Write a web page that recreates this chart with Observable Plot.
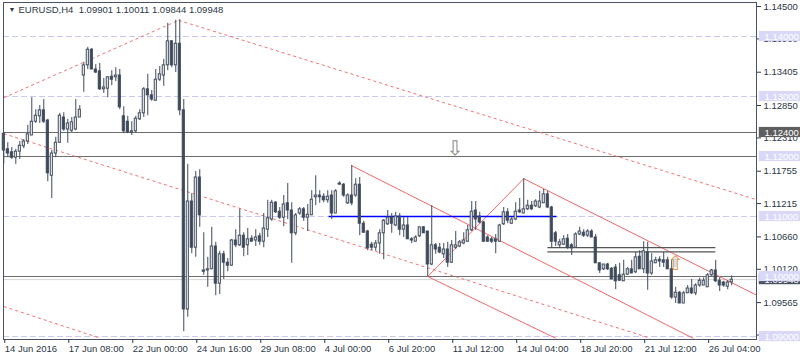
<!DOCTYPE html>
<html><head><meta charset="utf-8">
<script src="https://cdn.jsdelivr.net/npm/d3@7"></script>
<script src="https://cdn.jsdelivr.net/npm/@observablehq/plot@0.6"></script>
<style>
html,body{margin:0;padding:0;background:#fff;}
#chart svg{display:block}
</style></head><body><div id="chart"></div>
<script>
// EURUSD H4 candles (bar index 0 = 14 Jun 2016 00:00)
const open=[
1.1238,1.1212,1.1207,1.1198,1.1208,1.1217,1.1225,1.1235,1.1258,1.1267,
1.1277,1.1260,1.1168,1.1205,1.1223,1.1265,1.1245,1.1243,1.1245,1.1265,
1.1335,1.1352,1.1378,1.1345,1.1342,1.1312,1.1313,1.1333,1.1332,1.1335,
1.1267,1.1258,1.1240,1.1242,1.1262,1.1272,1.1312,1.1302,1.1293,1.1328,
1.1335,1.1352,1.1392,1.1352,1.1388,1.1277,1.0945,1.1125,1.1048,1.1165,
1.1010,1.1010,1.1012,1.1050,1.0988,1.1037,1.1023,1.1018,1.1060,1.1052,
1.1068,1.1052,1.1063,1.1060,1.1067,1.1058,1.1078,1.1095,1.1123,1.1108,
1.1098,1.1122,1.1110,1.1072,1.1105,1.1112,1.1098,1.1102,1.1132,1.1135,
1.1133,1.1127,1.1135,1.1105,1.1155,1.1153,1.1122,1.1135,1.1135,1.1153,
1.1088,1.1075,1.1053,1.1048,1.1055,1.1072,1.1087,1.1098,1.1085,1.1100,
1.1078,1.1085,1.1062,1.1058,1.1067,1.1082,1.1075,1.1020,1.1052,1.1048,
1.1037,1.1045,1.1023,1.1048,1.1050,1.1055,1.1058,1.1077,1.1110,1.1100,
1.1090,1.1065,1.1062,1.1062,1.1058,1.1087,1.1107,1.1088,1.1095,1.1110,
1.1105,1.1112,1.1118,1.1117,1.1115,1.1122,1.1137,1.1115,1.1072,1.1052,
1.1053,1.1063,1.1052,1.1048,1.1070,1.1073,1.1068,1.1075,1.1065,1.1022,
1.1012,1.1020,1.1013,1.1015,1.1002,1.0992,1.1003,1.1012,1.1007,1.1033,
1.1012,1.1040,1.1005,1.1022,1.1028,1.1027,1.1027,1.1012,1.0965,1.0973,
1.0955,1.0972,1.0980,1.0972,1.0985,1.0985,1.0982,1.1002,1.1010,1.0993,
1.0990,1.0983,1.09901];
const high=[
1.1240,1.1223,1.1215,1.1212,1.1225,1.1228,1.1252,1.1298,1.1278,1.1285,
1.1295,1.1262,1.1210,1.1232,1.1272,1.1273,1.1262,1.1265,1.1295,1.1285,
1.1357,1.1382,1.1380,1.1353,1.1355,1.1330,1.1333,1.1343,1.1348,1.1345,
1.1283,1.1267,1.1258,1.1267,1.1278,1.1315,1.1337,1.1310,1.1345,1.1350,
1.1362,1.1422,1.1393,1.1427,1.1428,1.1295,1.1187,1.1138,1.1175,1.1178,
1.1073,1.1032,1.1082,1.1057,1.1042,1.1042,1.1030,1.1062,1.1078,1.1112,
1.1073,1.1080,1.1068,1.1078,1.1072,1.1105,1.1127,1.1127,1.1125,1.1115,
1.1135,1.1155,1.1123,1.1105,1.1115,1.1115,1.1120,1.1143,1.1168,1.1143,
1.1138,1.1143,1.1143,1.1145,1.1158,1.1155,1.1138,1.1185,1.1163,1.1165,
1.1092,1.1077,1.1057,1.1060,1.1078,1.1095,1.1110,1.1105,1.1107,1.1105,
1.1098,1.1098,1.1065,1.1068,1.1082,1.1083,1.1075,1.1118,1.1055,1.1055,
1.1055,1.1057,1.1060,1.1075,1.1060,1.1073,1.1085,1.1125,1.1125,1.1107,
1.1092,1.1068,1.1065,1.1070,1.1087,1.1115,1.1113,1.1098,1.1123,1.1130,
1.1163,1.1127,1.1125,1.1128,1.1142,1.1145,1.1142,1.1117,1.1075,1.1062,
1.1068,1.1070,1.1055,1.1073,1.1082,1.1078,1.1078,1.1078,1.1070,1.1023,
1.1020,1.1022,1.1015,1.1020,1.1022,1.1027,1.1015,1.1027,1.1040,1.1043,
1.1058,1.1057,1.1038,1.1032,1.1033,1.1040,1.1032,1.1027,1.0982,1.0975,
1.0975,1.0985,1.0995,1.0988,1.0997,1.0998,1.1005,1.1012,1.1027,1.0998,
1.0992,1.0993,1.10011];
const low=[
1.1188,1.1198,1.1195,1.1187,1.1195,1.1213,1.1220,1.1235,1.1255,1.1255,
1.1255,1.1158,1.1130,1.1198,1.1222,1.1242,1.1222,1.1240,1.1243,1.1265,
1.1307,1.1345,1.1345,1.1338,1.1310,1.1305,1.1298,1.1318,1.1325,1.1278,
1.1238,1.1238,1.1235,1.1240,1.1260,1.1265,1.1268,1.1292,1.1292,1.1325,
1.1317,1.1343,1.1348,1.1340,1.1268,1.0908,1.0932,1.1038,1.1032,1.1082,
1.1002,1.0982,1.1012,1.0968,1.0970,1.0995,1.1008,1.1017,1.1048,1.1050,
1.1033,1.1035,1.1058,1.1050,1.1052,1.1048,1.1065,1.1092,1.1105,1.1095,
1.1083,1.1095,1.1022,1.1068,1.1102,1.1092,1.1075,1.1102,1.1118,1.1122,
1.1123,1.1122,1.1095,1.1105,1.1152,1.1132,1.1120,1.1118,1.1132,1.1068,
1.1072,1.1043,1.1043,1.1042,1.1037,1.1028,1.1085,1.1072,1.1083,1.1068,
1.1065,1.1062,1.1055,1.1058,1.1065,1.1072,1.1000,1.1018,1.1037,1.1038,
1.1030,1.1015,1.1022,1.1045,1.1048,1.1053,1.1057,1.1075,1.1077,1.1088,
1.1057,1.1058,1.1055,1.1038,1.1057,1.1085,1.1088,1.1087,1.1093,1.1105,
1.1105,1.1110,1.1110,1.1115,1.1113,1.1122,1.1113,1.1048,1.1050,1.1047,
1.1052,1.1045,1.1035,1.1047,1.1068,1.1065,1.1065,1.1065,1.1022,1.1005,
1.1010,1.1010,1.0995,1.0978,1.0992,1.0992,1.1002,1.1005,1.1005,1.1012,
1.1005,1.0977,1.1002,1.1022,1.1015,1.1015,1.1012,1.0962,1.0955,1.0955,
1.0955,1.0972,1.0970,1.0968,1.0982,1.0985,1.0982,1.1000,1.0990,1.0975,
1.0982,1.0978,1.09844];
const close=[
1.1210,1.1205,1.1198,1.1208,1.1218,1.1225,1.1237,1.1258,1.1268,1.1277,
1.1258,1.1172,1.1205,1.1223,1.1268,1.1245,1.1255,1.1257,1.1265,1.1278,
1.1352,1.1378,1.1345,1.1340,1.1312,1.1315,1.1332,1.1328,1.1335,1.1282,
1.1242,1.1240,1.1242,1.1263,1.1272,1.1312,1.1302,1.1295,1.1328,1.1337,
1.1352,1.1392,1.1352,1.1388,1.1277,1.0945,1.1125,1.1048,1.1165,1.1102,
1.1008,1.1012,1.1050,1.0988,1.1037,1.1023,1.1018,1.1060,1.1052,1.1068,
1.1048,1.1062,1.1058,1.1065,1.1058,1.1080,1.1097,1.1123,1.1107,1.1098,
1.1120,1.1110,1.1072,1.1102,1.1112,1.1098,1.1103,1.1128,1.1135,1.1132,
1.1127,1.1133,1.1105,1.1142,1.1154,1.1135,1.1135,1.1122,1.1153,1.1088,
1.1073,1.1047,1.1048,1.1055,1.1072,1.1093,1.1098,1.1088,1.1100,1.1078,
1.1085,1.1062,1.1060,1.1065,1.1082,1.1072,1.1020,1.1052,1.1045,1.1040,
1.1045,1.1023,1.1052,1.1052,1.1057,1.1060,1.1077,1.1108,1.1095,1.1090,
1.1058,1.1058,1.1058,1.1058,1.1085,1.1107,1.1093,1.1095,1.1108,1.1107,
1.1112,1.1118,1.1112,1.1125,1.1125,1.1137,1.1115,1.1058,1.1058,1.1057,
1.1062,1.1048,1.1047,1.1070,1.1075,1.1068,1.1075,1.1065,1.1022,1.1010,
1.1020,1.1012,1.0995,1.0992,1.0993,1.1003,1.1012,1.1005,1.1032,1.1012,
1.1042,1.1005,1.1025,1.1027,1.1025,1.1023,1.1012,1.0965,1.0973,1.0955,
1.0972,1.0980,1.0972,1.0985,1.0993,1.0993,1.1002,1.1010,1.0992,1.0985,
1.0985,1.0990,1.09948];

const xTickIdx=[0,16,32,48,64,80,96,112,128,144,160,176];
const xTickLabels=["14 Jun 2016","17 Jun 08:00","22 Jun 00:00","24 Jun 16:00","29 Jun 08:00","4 Jul 00:00","6 Jul 20:00","11 Jul 12:00","14 Jul 04:00","18 Jul 20:00","21 Jul 12:00","26 Jul 04:00"];
const yTicks=[1.14500,1.13960,1.13405,1.12850,1.12310,1.11755,1.11215,1.10660,1.10120,1.09565,1.09025];
const roundLevels=[1.14,1.13,1.12,1.11,1.10,1.09];
const grayLevels=[1.1240,1.1200,1.1000];
const darkLabels=[1.09948,1.12400];
// trend lines: [startBar, startPrice, endBar, endPrice]
const dashedLines=[[0,1.1298,43.7,1.1427],[43.7,1.1427,188.2,1.1128],[0,1.1238,161.7,1.0897],[0,1.0950,24.2,1.0897]];
const solidLines=[[86.9,1.1185,172.4,1.0897],[130,1.1163,188.2,1.0969],[106,1.1000,138,1.0897],[106,1.1000,130,1.1163]];
const blueLines=[[81.2,1.1100,138.2,1.1100]];
const blackLines=[[135.9,1.1048,177.9,1.1048],[135.9,1.1041,177.9,1.1041]];
const arrows=[{i:112.8,p:1.1214,g:"⇩",c:"#8a8a8a",bg:"#ffffff"},{i:167.9,p:1.1022,g:"⇧",c:"#e09a48",bg:"#cfe3f7"}];

const n=open.length;
const bars=d3.range(n).map(i=>({i,o:open[i],h:high[i],l:low[i],c:close[i]}));
const seg=a=>a.map(([x1,y1,x2,y2])=>({x1,y1,x2,y2}));
const f5=d3.format(".5f");
const XMAX=188.2;
const ink="#3e4a5b";
const font="Liberation Sans, Arial, sans-serif";
const title=`EURUSD,H4  ${f5(open[n-1])} ${f5(high[n-1])} ${f5(low[n-1])} ${f5(close[n-1])}`;
const bh=0.00085;

const chart=Plot.plot({
  width:800,height:360,
  marginLeft:3,marginRight:44,marginTop:2,marginBottom:21,
  x:{domain:[-0.075,XMAX],label:null},
  y:{domain:[1.0895,1.14567],label:null},
  style:{fontFamily:font,fontSize:"9.5px",background:"#fff",color:"#2d3745"},
  marks:[
    Plot.ruleY(roundLevels,{stroke:"#c9c9f2",strokeDasharray:"6,3"}),
    Plot.ruleY(grayLevels,{stroke:"#6e6e6e",strokeWidth:1.2}),
    Plot.ruleY([close[n-1]],{stroke:"#d4d4d4"}),
    Plot.link(seg(dashedLines),{x1:"x1",y1:"y1",x2:"x2",y2:"y2",stroke:"#f07272",strokeDasharray:"3,3",clip:true}),
    Plot.link(seg(solidLines),{x1:"x1",y1:"y1",x2:"x2",y2:"y2",stroke:"#f06868",clip:true}),
    Plot.link(seg(blueLines),{x1:"x1",y1:"y1",x2:"x2",y2:"y2",stroke:"#0000ff",strokeWidth:1.6}),
    Plot.link(seg(blackLines),{x1:"x1",y1:"y1",x2:"x2",y2:"y2",stroke:"#555",strokeWidth:1.2}),
    Plot.ruleX(bars,{x:"i",y1:"l",y2:"h",stroke:ink}),
    Plot.rect(bars,{x1:d=>d.i-0.26,x2:d=>d.i+0.26,y1:"o",y2:"c",fill:d=>d.c>=d.o?"#fff":ink,stroke:ink}),
    Plot.ruleY(bars.filter(d=>Math.abs(d.c-d.o)<0.00012),{y:"c",x1:d=>d.i-0.4,x2:d=>d.i+0.4,stroke:ink}),
    Plot.text(arrows,{x:"i",y:"p",text:()=>"⬆",rotate:d=>d.g==="⇩"?180:0,fill:"bg",fontSize:13,fontFamily:"DejaVu Sans"}),
    Plot.text(arrows,{x:"i",y:"p",text:"g",fill:"c",fontSize:20,fontFamily:"DejaVu Sans"}),
    Plot.frame({stroke:"#4a5363"}),
    Plot.axisY({anchor:"right",ticks:yTicks,tickFormat:f5,tickSize:4,tickPadding:3,label:null,fontSize:9.5,color:"#2d3745"}),
    Plot.axisX({anchor:"bottom",ticks:xTickIdx,tickFormat:d=>xTickLabels[xTickIdx.indexOf(d)],tickSize:4,tickPadding:2,textAnchor:"start",dx:1,label:null,fontSize:9.5,color:"#2d3745"}),
    Plot.rect(darkLabels,{x1:()=>XMAX+0.7,x2:()=>XMAX+12,y1:d=>d-bh,y2:d=>d+bh,fill:d=>d===1.124?"#5e5e5e":"#4a5363"}),
    Plot.text(darkLabels,{y:d=>d,frameAnchor:"right",dx:8,textAnchor:"start",text:d=>f5(d),fill:"#fff",fontSize:9.5}),
    Plot.rect(roundLevels,{x1:()=>XMAX+0.7,x2:()=>XMAX+12,y1:d=>d-bh,y2:d=>d+bh,fill:"#d9d9f7"}),
    Plot.text(roundLevels,{y:d=>d,frameAnchor:"right",dx:8,textAnchor:"start",text:d=>f5(d),fill:"#fff",fontSize:9.5}),
    Plot.text(["▼"],{frameAnchor:"top-left",dx:5,dy:5,fontSize:7,fill:"#2d3745",textAnchor:"start",lineAnchor:"top"}),
    Plot.text([title],{frameAnchor:"top-left",dx:15,dy:4,fontSize:9.5,fill:"#2d3745",textAnchor:"start",lineAnchor:"top"})
  ]
});
document.getElementById("chart").appendChild(chart);
</script></body></html>
